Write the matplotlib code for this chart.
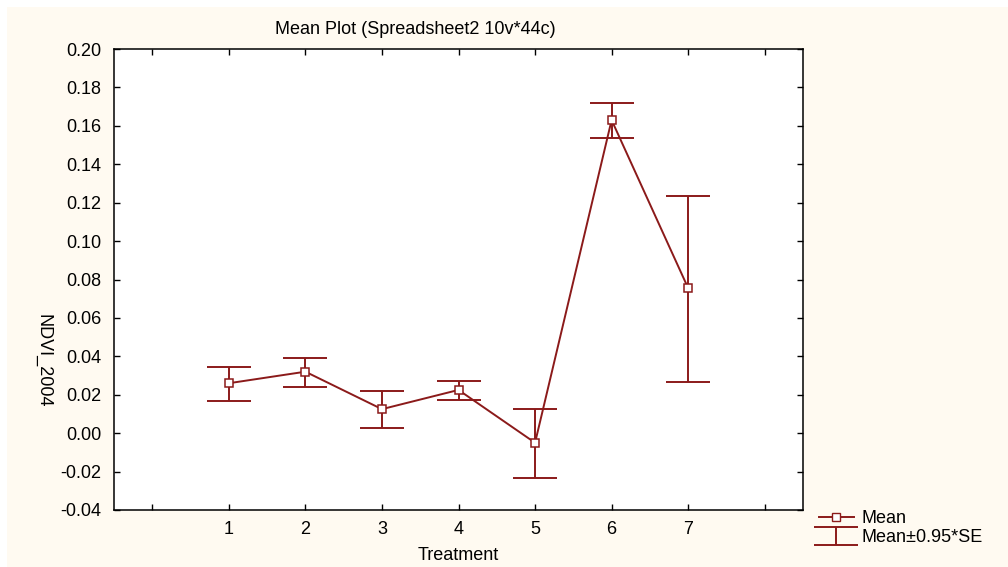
import numpy as np
import matplotlib.pyplot as plt
from matplotlib.lines import Line2D
from matplotlib.patches import Rectangle

plt.rcParams['font.family'] = ['Liberation Sans', 'DejaVu Sans']

treatment = [1, 2, 3, 4, 5, 6, 7]
mean = [0.026, 0.032, 0.0125, 0.0225, -0.005, 0.163, 0.0755]
upper = [0.0345, 0.039, 0.022, 0.027, 0.0125, 0.172, 0.1235]
lower = [0.017, 0.024, 0.0025, 0.0175, -0.0235, 0.1535, 0.0265]

red = '#8b1a1a'
cream = '#fffaf1'
fs = 13

fig = plt.figure(figsize=(10.08, 5.67), dpi=100, facecolor='white')
fig.patches.append(Rectangle((7 / 1008, 0), 1, 1 - 7 / 567, transform=fig.transFigure,
                             facecolor=cream, edgecolor='none', zorder=-1))
ax = fig.add_axes([114 / 1008, 1 - 510 / 567, (803 - 114) / 1008, (510 - 49) / 567])
ax.set_facecolor('white')

m = np.array(mean)
yerr = [m - np.array(lower), np.array(upper) - m]
eb = ax.errorbar(treatment, mean, yerr=yerr, fmt='none', ecolor=red, elinewidth=1.4,
                 capsize=16, capthick=1.4, zorder=2)
ax.plot(treatment, mean, color=red, linewidth=1.4, marker='s', markersize=6,
        markerfacecolor='white', markeredgecolor=red, markeredgewidth=1.1, zorder=3)

ax.set_xlim(-0.5, 8.5)
ax.set_ylim(-0.04, 0.20)
ax.set_xticks(range(0, 9))
ax.set_xticklabels([''] + [str(t) for t in treatment] + [''])
yt = np.arange(-0.04, 0.201, 0.02)
ax.set_yticks(yt)
ax.set_yticklabels(['%.2f' % v for v in yt])
ax.tick_params(direction='in', top=True, right=True, length=4, width=1,
               labelsize=fs, colors='black')
ax.tick_params(axis='y', pad=9)
ax.tick_params(axis='x', pad=8)
for s in ax.spines.values():
    s.set_linewidth(1.1)

fig.text(415 / 1008, 1 - 29 / 567, 'Mean Plot (Spreadsheet2 10v*44c)', ha='center',
         va='center', fontsize=fs)
fig.text(43 / 1008, 1 - 361 / 567, 'NDVI_2004', rotation=-90, ha='center', va='center',
         fontsize=fs)
fig.text(458 / 1008, 1 - 556 / 567, 'Treatment', ha='center', va='center', fontsize=fs)

mean_handle = Line2D([], [], color=red, linewidth=1.4, marker='s', markersize=6,
                     markerfacecolor='white', markeredgecolor=red)
leg = fig.legend([mean_handle, eb], ['Mean', 'Mean\u00b10.95*SE'],
                 loc='upper left', bbox_to_anchor=(812 / 1008, 1 - 503 / 567),
                 frameon=False, fontsize=fs, handlelength=1.9, handletextpad=0.45,
                 labelspacing=0.1, borderaxespad=0)

fig.savefig('out.png', dpi=100, facecolor=fig.get_facecolor())
